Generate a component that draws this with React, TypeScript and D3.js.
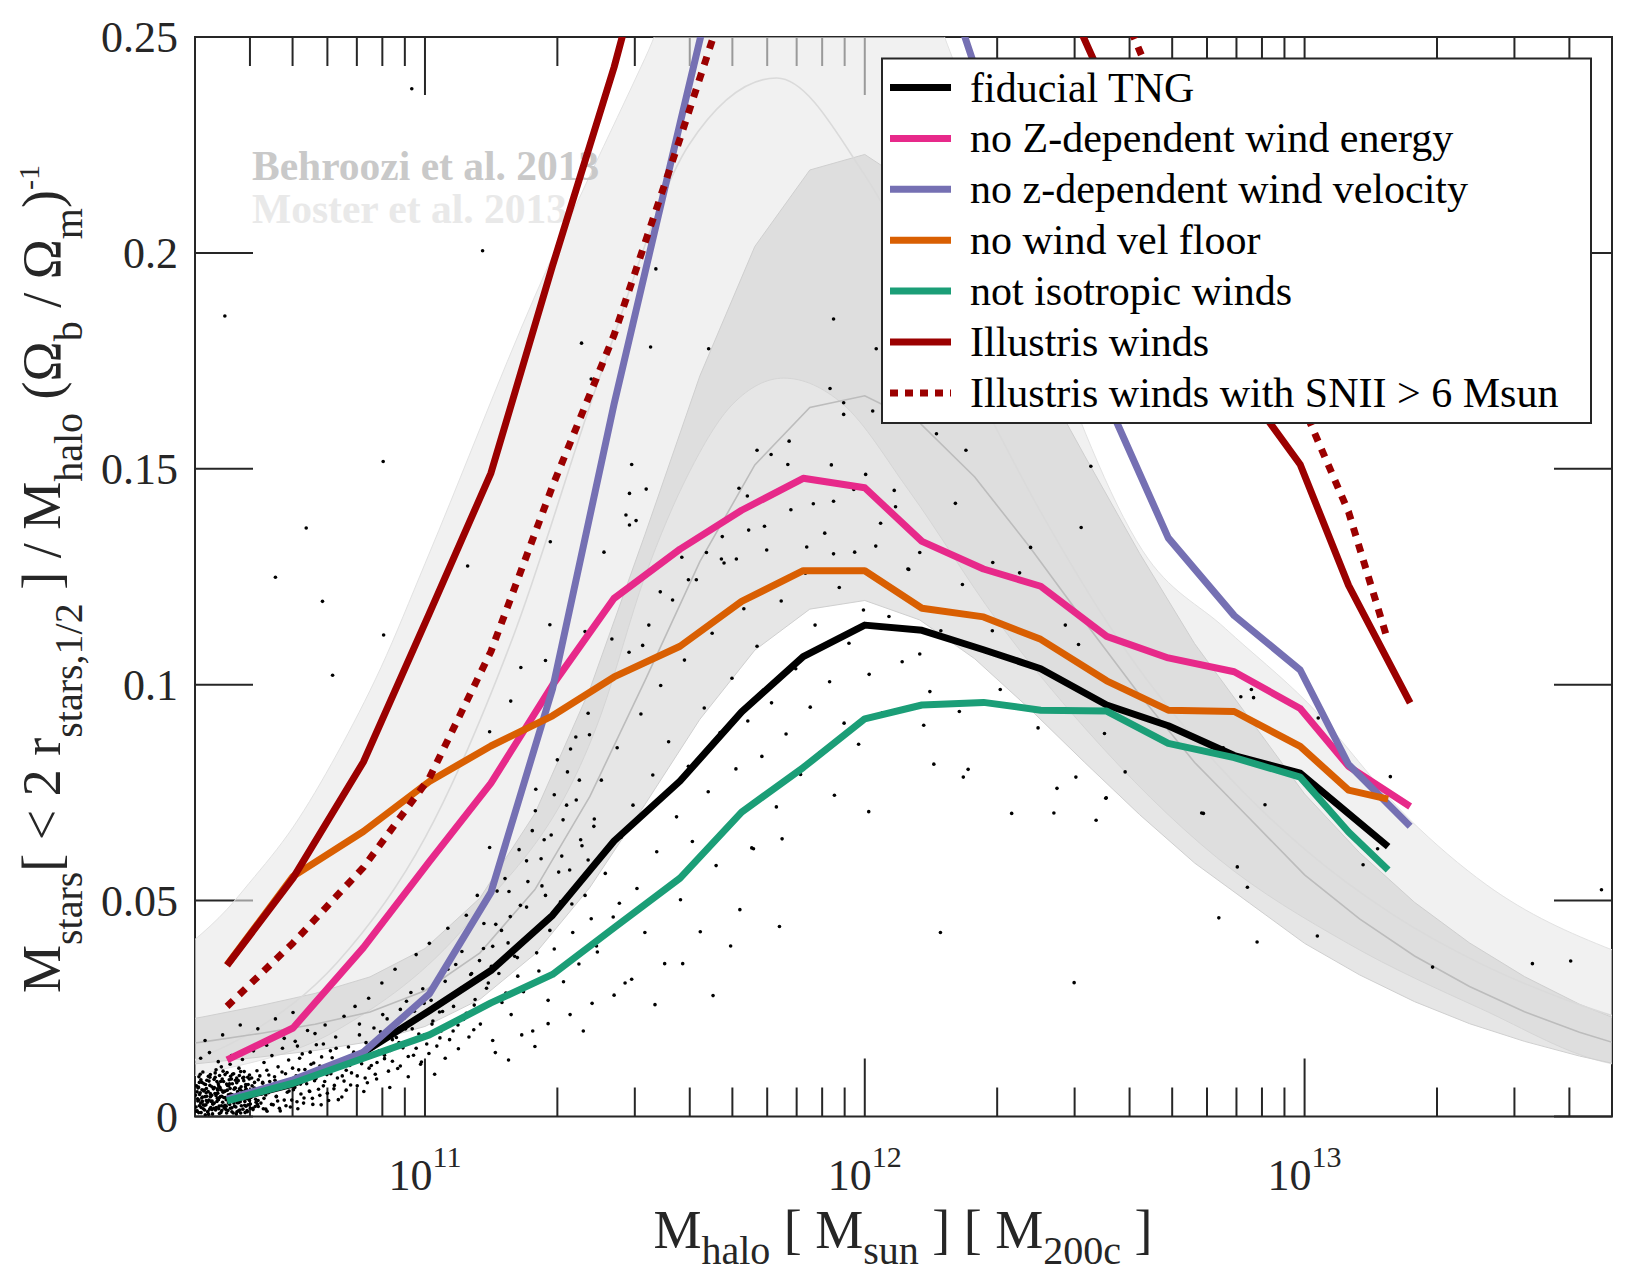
import * as d3 from "d3";

const WIDTH = 1650;
const HEIGHT = 1275;
const PLOT = { x0: 195, x1: 1612, y0: 37, y1: 1116.5 };
const FONT = "'Liberation Serif', 'Times New Roman', Times, serif";

// median relations of the model variations, binned in log10 halo mass
const binLogM = [10.55, 10.7, 10.86, 11.01, 11.15, 11.29, 11.43, 11.58, 11.72, 11.86, 12.0, 12.13, 12.27, 12.4, 12.55, 12.69, 12.84, 12.99, 13.1, 13.19, 13.24];

const fiducialTNG = [0.0037, 0.0075, 0.0148, 0.0245, 0.0338, 0.0466, 0.0638, 0.0777, 0.0937, 0.1065, 0.1138, 0.1126, 0.1081, 0.1037, 0.0953, 0.0905, 0.0836, 0.0795, null, 0.0625, null];
const noZWindEnergy = [0.0131, 0.0205, 0.0391, 0.059, 0.0772, 0.0999, 0.12, 0.1314, 0.1404, 0.1478, 0.1456, 0.1332, 0.1268, 0.1228, 0.1112, 0.1062, 0.103, 0.0945, 0.0811, null, 0.0718];
const noZWindVelocity = [0.004, 0.0085, 0.0149, 0.0284, 0.0519, 0.099, 0.165, 0.23, 0.29, 0.33, 0.34, 0.28, 0.237, 0.204, 0.166, 0.134, 0.116, 0.1034, 0.0815, null, 0.0672];
const noWindVelFloor = [0.0351, 0.0556, 0.066, 0.0776, 0.0858, 0.0928, 0.1018, 0.1089, 0.1193, 0.1264, 0.1264, 0.1177, 0.1157, 0.1105, 0.1009, 0.0941, 0.0938, 0.0857, 0.0756, 0.0735, null];
const notIsotropicWinds = [0.0036, 0.0077, 0.0135, 0.0189, 0.0263, 0.0329, 0.0437, 0.0552, 0.0705, 0.0808, 0.0921, 0.0953, 0.0959, 0.0941, 0.0939, 0.0864, 0.0831, 0.0786, 0.0659, 0.0571, null];
const illustrisWinds = [0.035, 0.0552, 0.0821, 0.1165, 0.149, 0.197, 0.243, 0.3, 0.35, 0.38, 0.38, 0.35, 0.32, 0.272, 0.238, 0.205, 0.172, 0.151, 0.123, null, 0.0958];
const illustrisWindsSNII = [0.0255, 0.0402, 0.0577, 0.0784, 0.1077, 0.146, 0.181, 0.2265, 0.27, 0.31, 0.33, 0.33, 0.31, 0.29, 0.265, 0.231, 0.199, 0.166, 0.14, 0.11, null];

const seriesNames = [
  "fiducial TNG",
  "no Z-dependent wind energy",
  "no z-dependent wind velocity",
  "no wind vel floor",
  "not isotropic winds",
  "Illustris winds",
  "Illustris winds with SNII > 6 Msun",
];
const seriesValues = [fiducialTNG, noZWindEnergy, noZWindVelocity, noWindVelFloor, notIsotropicWinds, illustrisWinds, illustrisWindsSNII];
const seriesColors = ["#000000", "#e7298a", "#7570b3", "#d95f02", "#1b9e77", "#9b0000", "#9b0000"];
const seriesDotted = [false, false, false, false, false, false, true];

// Behroozi et al. 2013, tabulated every 0.125 dex
const behrooziLogM = [10.375, 10.5, 10.625, 10.75, 10.875, 11.0, 11.125, 11.25, 11.375, 11.5, 11.625, 11.75, 11.875, 12.0, 12.125, 12.25, 12.375, 12.5, 12.625, 12.75, 12.875, 13.0, 13.125, 13.25, 13.375, 13.5, 13.625, 13.75];
const behrooziMid = [0.0156, 0.01735, 0.01923, 0.02135, 0.02422, 0.02913, 0.0379, 0.05256, 0.07413, 0.1009, 0.1285, 0.1509, 0.1642, 0.1669, 0.1606, 0.1481, 0.1319, 0.1146, 0.09767, 0.08199, 0.069, 0.05596, 0.04576, 0.03718, 0.03009, 0.02425, 0.01949, 0.01562];
const behrooziHi = [0.0208, 0.02316, 0.02567, 0.0285, 0.03233, 0.03889, 0.0506, 0.07017, 0.09896, 0.1347, 0.1715, 0.2015, 0.2192, 0.2228, 0.2144, 0.1977, 0.1761, 0.153, 0.1304, 0.1095, 0.0921, 0.0747, 0.0611, 0.0496, 0.0402, 0.0324, 0.026, 0.0209];
const behrooziLo = [0.01117, 0.01242, 0.01377, 0.01528, 0.01734, 0.02085, 0.02713, 0.03762, 0.05306, 0.07223, 0.09198, 0.108, 0.1175, 0.1195, 0.115, 0.106, 0.0944, 0.082, 0.0699, 0.0587, 0.0494, 0.0401, 0.0328, 0.0266, 0.0215, 0.0174, 0.014, 0.0112];

// Moster et al. 2013
const mosterLogM = [10.3, 10.477, 10.6, 10.8, 11.0, 11.2, 11.4, 11.6, 11.8, 12.0, 12.2, 12.4, 12.6, 12.8, 13.0, 13.2, 13.4, 13.6, 13.8];
const mosterMid = [0.0075, 0.0131, 0.0192, 0.0356, 0.0645, 0.111, 0.172, 0.225, 0.2405, 0.218, 0.179, 0.14, 0.107, 0.0817, 0.0619, 0.0468, 0.0354, 0.0268, 0.0202];
const mosterHiLogM = [10.3, 10.477, 10.55, 10.6, 10.7, 10.8, 10.9, 11.0, 11.25, 11.5, 11.75, 12.0, 12.2, 12.4, 12.632, 12.82, 13.007, 13.238, 13.413, 13.699, 13.8];
const mosterHi = [0.03, 0.041, 0.048, 0.054, 0.067, 0.084, 0.104, 0.128, 0.19, 0.245, 0.3, 0.29, 0.245, 0.185, 0.131, 0.113, 0.0958, 0.0689, 0.0537, 0.0386, 0.035];
const mosterLoLogM = [10.3, 10.477, 10.8, 11.1, 11.4, 11.5, 11.6, 11.7, 11.816, 11.95, 12.1, 12.3, 12.5, 12.8, 13.1, 13.4, 13.699, 13.8];
const mosterLo = [0.006, 0.0095, 0.02, 0.045, 0.093, 0.125, 0.149, 0.165, 0.171, 0.165, 0.145, 0.115, 0.09, 0.06, 0.04, 0.025, 0.0122, 0.011];

// individual fiducial-run galaxies: [log10 Mhalo, ratio]
const galaxies: [number, number][] = [
  [10.481, 0.0012], [10.483, 0.0041], [10.485, 0.0068], [10.487, 0.0025], [10.489, 0.0055], [10.491, 0.0009], [10.493, 0.0079], [10.494, 0.0035], [10.496, 0.0018], [10.498, 0.0061],
  [10.5, 0.0046], [10.502, 0.0027], [10.504, 0.0084], [10.506, 0.0011], [10.507, 0.0058], [10.509, 0.0038], [10.511, 0.0072], [10.513, 0.0021], [10.515, 0.0049], [10.517, 0.0006],
  [10.519, 0.0064], [10.521, 0.0031], [10.523, 0.0091], [10.524, 0.0015], [10.526, 0.0053], [10.528, 0.0042], [10.53, 0.0076], [10.532, 0.0024], [10.534, 0.0067], [10.536, 0.0009],
  [10.538, 0.0047], [10.54, 0.0033], [10.542, 0.0081], [10.544, 0.0019], [10.546, 0.0059], [10.548, 0.0039], [10.55, 0.0102], [10.552, 0.0014], [10.554, 0.0071], [10.556, 0.0028],
  [10.558, 0.0052], [10.56, 0.0087], [10.562, 0.0036], [10.564, 0.0008], [10.566, 0.0063], [10.568, 0.0044], [10.57, 0.0022], [10.572, 0.0078], [10.574, 0.0057], [10.576, 0.0013],
  [10.578, 0.0095], [10.58, 0.0034], [10.582, 0.0069], [10.584, 0.0048], [10.586, 0.0017], [10.588, 0.0083], [10.59, 0.0026], [10.592, 0.0062], [10.594, 0.0043], [10.596, 0.0011],
  [10.598, 0.0074], [10.6, 0.0054], [10.603, 0.0029], [10.606, 0.0089], [10.609, 0.0016], [10.612, 0.0066], [10.615, 0.004], [10.618, 0.0106], [10.621, 0.0023], [10.624, 0.0058],
  [10.482, 0.0057], [10.486, 0.0092], [10.49, 0.0031], [10.495, 0.0103], [10.499, 0.0015], [10.503, 0.0065], [10.508, 0.0005], [10.512, 0.0097], [10.516, 0.0036], [10.52, 0.0019],
  [10.525, 0.0108], [10.529, 0.0061], [10.533, 0.0044], [10.537, 0.0115], [10.541, 0.0056], [10.545, 0.0026], [10.549, 0.0075], [10.553, 0.005], [10.557, 0.0121], [10.561, 0.002],
  [10.565, 0.0099], [10.569, 0.0066], [10.573, 0.0032], [10.577, 0.0112], [10.581, 0.0008], [10.585, 0.0058], [10.589, 0.0104], [10.593, 0.0024], [10.597, 0.0091], [10.601, 0.0037],
  [10.536, 0.0062], [10.491, 0.0021], [10.612, 0.0049], [10.558, 0.0093], [10.503, 0.0037], [10.579, 0.0015], [10.527, 0.0081], [10.484, 0.0066], [10.598, 0.0027], [10.546, 0.0044],
  [10.621, 0.0085], [10.512, 0.0053], [10.571, 0.0006], [10.489, 0.0098], [10.553, 0.0031], [10.607, 0.0071], [10.531, 0.0018], [10.497, 0.0059], [10.583, 0.0047], [10.562, 0.0076],
  [10.518, 0.0029], [10.634, 0.0042], [10.541, 0.0105], [10.482, 0.0013], [10.594, 0.0063], [10.525, 0.0048], [10.567, 0.0024], [10.509, 0.0082], [10.588, 0.0091], [10.549, 0.0008],
  [10.616, 0.0033], [10.494, 0.0045], [10.574, 0.0057], [10.533, 0.0095], [10.603, 0.0019], [10.521, 0.0067], [10.558, 0.0039], [10.487, 0.0079], [10.627, 0.0061], [10.543, 0.0022],
  [10.581, 0.0104], [10.506, 0.0011], [10.569, 0.0084], [10.529, 0.0054], [10.596, 0.0041], [10.514, 0.0035], [10.551, 0.0072], [10.499, 0.0026], [10.638, 0.0017], [10.564, 0.0049],
  [10.539, 0.0087], [10.609, 0.0056], [10.486, 0.0038], [10.576, 0.0032], [10.523, 0.0101], [10.591, 0.0009], [10.557, 0.0065], [10.501, 0.0074], [10.619, 0.0028], [10.535, 0.0046],
  [10.572, 0.0089], [10.516, 0.0016], [10.586, 0.0052], [10.548, 0.0024], [10.493, 0.0062], [10.631, 0.0077], [10.561, 0.0011], [10.527, 0.0035], [10.601, 0.0096], [10.544, 0.0058],
  [10.478, 0.0049], [10.566, 0.0043], [10.511, 0.0091], [10.592, 0.0069], [10.538, 0.0014], [10.614, 0.0023], [10.555, 0.0085], [10.504, 0.0047], [10.578, 0.0064], [10.531, 0.0071],
  [10.4795, 0.0022], [10.4805, 0.0071], [10.4835, 0.0036], [10.4855, 0.0009], [10.4875, 0.0051], [10.4905, 0.0085], [10.4925, 0.0043], [10.4955, 0.0027], [10.4975, 0.0076], [10.5005, 0.0004],
  [10.5025, 0.0055], [10.5055, 0.0033], [10.5075, 0.0093], [10.5105, 0.0017], [10.5125, 0.0046], [10.5155, 0.0069], [10.5175, 0.0029], [10.5205, 0.0086], [10.5225, 0.0053], [10.5255, 0.0021],
  [10.5275, 0.0064], [10.5305, 0.0039], [10.5325, 0.0007], [10.5355, 0.0081], [10.5375, 0.0025], [10.5405, 0.0059], [10.5425, 0.0044], [10.5455, 0.0097], [10.5475, 0.0016], [10.5505, 0.0061],
  [10.5525, 0.0037], [10.5555, 0.0076], [10.5575, 0.0019], [10.5605, 0.0051], [10.5625, 0.0098], [10.5655, 0.0031], [10.5675, 0.0066], [10.5705, 0.0045], [10.5725, 0.0011], [10.5755, 0.0083],
  [10.5775, 0.0041], [10.5805, 0.0062], [10.5825, 0.0025], [10.5855, 0.0089], [10.5875, 0.0055], [10.5905, 0.0035], [10.5925, 0.0074], [10.5955, 0.0014], [10.5975, 0.0052], [10.6005, 0.0087],
  [10.6045, 0.0044], [10.6085, 0.0019], [10.6125, 0.0079], [10.6165, 0.0061], [10.6205, 0.0037], [10.6245, 0.0094], [10.6285, 0.0052], [10.6325, 0.0018], [10.6365, 0.0068], [10.6405, 0.0107],
  [10.49, 0.0135], [10.51, 0.0148], [10.53, 0.0127], [10.56, 0.0141], [10.585, 0.0132], [10.61, 0.0152], [10.64, 0.0165], [10.68, 0.0181], [10.71, 0.0163], [10.75, 0.0192],
  [10.5, 0.0176], [10.54, 0.0189], [10.62, 0.0203], [10.66, 0.0226], [10.7, 0.0241], [10.58, 0.0212],
  [10.627, 0.0031], [10.631, 0.0079], [10.634, 0.0125], [10.638, 0.005], [10.641, 0.0012], [10.645, 0.0096], [10.648, 0.0068], [10.652, 0.0141], [10.655, 0.0027], [10.659, 0.0084],
  [10.662, 0.0046], [10.666, 0.0115], [10.669, 0.0019], [10.673, 0.0071], [10.676, 0.0158], [10.68, 0.0038], [10.683, 0.0099], [10.687, 0.0056], [10.69, 0.0131], [10.694, 0.0022],
  [10.644, 0.0055], [10.651, 0.0028], [10.658, 0.0092], [10.647, 0.0081], [10.665, 0.0036], [10.671, 0.0013], [10.655, 0.0061], [10.678, 0.0074], [10.662, 0.0047], [10.684, 0.0025],
  [10.691, 0.0059], [10.675, 0.0103], [10.697, 0.0038], [10.688, 0.0084], [10.704, 0.0067], [10.711, 0.0018], [10.699, 0.0112], [10.718, 0.0052], [10.707, 0.0094], [10.724, 0.0031],
  [10.697, 0.0087], [10.701, 0.0062], [10.705, 0.0174], [10.709, 0.0034], [10.713, 0.0108], [10.717, 0.0075], [10.721, 0.0145], [10.725, 0.0043], [10.729, 0.0092], [10.733, 0.0199],
  [10.731, 0.0076], [10.715, 0.0135], [10.738, 0.0058], [10.727, 0.0109], [10.744, 0.0042], [10.752, 0.0088], [10.739, 0.0149], [10.758, 0.0063], [10.747, 0.0124], [10.764, 0.0027],
  [10.737, 0.0059], [10.741, 0.0121], [10.745, 0.0028], [10.749, 0.0083], [10.753, 0.0166], [10.757, 0.0105], [10.761, 0.0049], [10.765, 0.0138], [10.769, 0.0071], [10.773, 0.0212],
  [10.772, 0.0081], [10.761, 0.0117], [10.778, 0.0054], [10.786, 0.0099], [10.769, 0.0168], [10.794, 0.0072], [10.803, 0.0039], [10.789, 0.0136], [10.812, 0.0094], [10.798, 0.0158],
  [10.777, 0.0097], [10.781, 0.0037], [10.785, 0.0152], [10.789, 0.0115], [10.793, 0.0064], [10.797, 0.0184], [10.801, 0.0089], [10.806, 0.0128], [10.811, 0.0045], [10.816, 0.0232],
  [10.821, 0.0061], [10.829, 0.0118], [10.816, 0.0082], [10.838, 0.0149], [10.846, 0.0071], [10.833, 0.0101], [10.855, 0.0133], [10.864, 0.0089], [10.851, 0.0214], [10.873, 0.0112],
  [10.821, 0.0107], [10.826, 0.0161], [10.831, 0.0073], [10.836, 0.0139], [10.841, 0.0255], [10.846, 0.0094], [10.851, 0.0189], [10.856, 0.0122], [10.861, 0.0058], [10.866, 0.0171],
  [10.882, 0.0167], [10.869, 0.0078], [10.891, 0.0125], [10.899, 0.0196], [10.887, 0.0098], [10.908, 0.0142], [10.917, 0.0105], [10.904, 0.0236], [10.926, 0.0128], [10.935, 0.0183],
  [10.872, 0.0274], [10.878, 0.0118], [10.884, 0.0205], [10.89, 0.0087], [10.896, 0.0152], [10.902, 0.0309], [10.908, 0.0134], [10.914, 0.0226], [10.92, 0.0067], [10.926, 0.0178],
  [10.922, 0.0153], [10.944, 0.0117], [10.953, 0.0228], [10.941, 0.0171], [10.962, 0.0139], [10.971, 0.0203], [10.958, 0.0267], [10.98, 0.0158], [10.99, 0.0121], [10.976, 0.0244],
  [10.932, 0.0341], [10.938, 0.0111], [10.944, 0.0248], [10.95, 0.0159], [10.956, 0.0203], [10.962, 0.0092], [10.968, 0.0287], [10.974, 0.0142], [10.98, 0.0375], [10.986, 0.0191],
  [10.999, 0.0189], [11.009, 0.0146], [10.995, 0.0296], [11.018, 0.0221], [11.027, 0.0163], [11.014, 0.0269], [11.037, 0.0198], [11.046, 0.0313], [11.033, 0.0242], [11.056, 0.0178],
  [10.992, 0.0126], [10.998, 0.0262], [11.004, 0.0168], [11.01, 0.0401], [11.016, 0.0214], [11.022, 0.0098], [11.028, 0.0318], [11.034, 0.0182], [11.04, 0.0243], [11.046, 0.0135],
  [11.065, 0.0255], [11.052, 0.0341], [11.075, 0.0212], [11.084, 0.0382], [11.071, 0.0287], [11.094, 0.0239], [11.104, 0.0329], [11.091, 0.0416], [11.114, 0.0271], [11.124, 0.0361],
  [11.052, 0.0436], [11.058, 0.0276], [11.064, 0.0198], [11.07, 0.0352], [11.076, 0.0157], [11.082, 0.0297], [11.088, 0.0225], [11.094, 0.0466], [11.1, 0.0184], [11.106, 0.0331],
  [11.111, 0.0201], [11.134, 0.0447], [11.144, 0.0309], [11.131, 0.0254], [11.154, 0.0394], [11.164, 0.0522], [11.151, 0.0348], [11.174, 0.0431], [11.184, 0.0286], [11.171, 0.0585],
  [11.112, 0.0258], [11.119, 0.0512], [11.126, 0.0214], [11.133, 0.0389], [11.14, 0.0297], [11.147, 0.0623], [11.154, 0.0176], [11.161, 0.0445], [11.168, 0.0331], [11.175, 0.0264],
  [11.194, 0.0463], [11.204, 0.0371], [11.191, 0.0521], [11.214, 0.0618], [11.224, 0.0407], [11.211, 0.0325], [11.234, 0.0544], [11.244, 0.0662], [11.231, 0.0485], [11.254, 0.0379],
  [11.182, 0.0551], [11.189, 0.0402], [11.196, 0.0236], [11.203, 0.0695], [11.21, 0.0368], [11.217, 0.0489], [11.224, 0.0289], [11.231, 0.0592], [11.238, 0.0421], [11.245, 0.0198],
  [11.264, 0.0597], [11.251, 0.0708], [11.274, 0.0512], [11.284, 0.0431], [11.271, 0.0641], [11.294, 0.0745], [11.304, 0.0566], [11.291, 0.0471], [11.314, 0.0687], [11.324, 0.0798],
  [11.252, 0.0758], [11.259, 0.0337], [11.266, 0.0534], [11.273, 0.0454], [11.28, 0.0269], [11.287, 0.0652], [11.294, 0.0388], [11.301, 0.0826], [11.308, 0.0497], [11.315, 0.0312],
  [11.311, 0.0603], [11.334, 0.0492], [11.344, 0.0733], [11.331, 0.0851], [11.354, 0.0641], [11.364, 0.0556], [11.351, 0.0779], [11.374, 0.0884], [11.384, 0.0672], [11.371, 0.0594],
  [11.322, 0.0721], [11.329, 0.0571], [11.336, 0.0426], [11.343, 0.0879], [11.35, 0.0353], [11.357, 0.0627], [11.364, 0.0512], [11.371, 0.0934], [11.378, 0.0458], [11.385, 0.0689],
  [11.16, 0.0148], [11.22, 0.0189], [11.28, 0.0215], [11.33, 0.0236], [11.38, 0.0262], [11.25, 0.0162], [11.19, 0.0131], [11.43, 0.0281], [11.47, 0.0318], [11.36, 0.0198],
  [11.392, 0.0381], [11.401, 0.0779], [11.41, 0.0563], [11.419, 0.1012], [11.428, 0.0462], [11.437, 0.0854], [11.446, 0.0647], [11.455, 0.0309], [11.464, 0.1075], [11.473, 0.0721],
  [11.482, 0.0528], [11.491, 0.0932], [11.5, 0.0426], [11.509, 0.1138], [11.518, 0.0791], [11.527, 0.0613], [11.536, 0.0998], [11.545, 0.0354], [11.554, 0.0868], [11.563, 0.1196],
  [11.572, 0.0694], [11.581, 0.0502], [11.59, 0.1057], [11.599, 0.0811], [11.608, 0.0637], [11.617, 0.1243], [11.626, 0.0428], [11.635, 0.0946], [11.644, 0.0752], [11.653, 0.1119],
  [11.662, 0.0581], [11.671, 0.0889], [11.68, 0.1282], [11.689, 0.0673], [11.698, 0.1015], [11.707, 0.0805], [11.716, 0.0479], [11.725, 0.1176], [11.734, 0.0916], [11.743, 0.0622],
  [11.755, 0.1089], [11.766, 0.0834], [11.777, 0.1312], [11.788, 0.0958], [11.799, 0.0717], [11.81, 0.1194], [11.821, 0.0886], [11.832, 0.1405], [11.843, 0.1037], [11.854, 0.0792],
  [11.865, 0.1258], [11.876, 0.0948], [11.887, 0.1138], [11.898, 0.0843], [11.909, 0.1351], [11.92, 0.1007], [11.931, 0.0744], [11.942, 0.1225], [11.953, 0.0911], [11.964, 0.1096],
  [11.975, 0.1452], [11.986, 0.0862], [11.997, 0.1173], [12.01, 0.1024], [12.025, 0.1321], [12.04, 0.0935], [12.055, 0.1158], [12.07, 0.1412], [12.085, 0.1053], [12.1, 0.1267],
  [12.163, 0.1581], [12.23, 0.1543], [12.514, 0.1506], [12.492, 0.1364], [12.067, 0.145], [12.206, 0.142], [12.377, 0.1318], [12.291, 0.1283], [12.352, 0.1259], [12.456, 0.1138],
  [12.486, 0.1093], [12.125, 0.1306], [12.098, 0.1268], [12.222, 0.1232], [12.29, 0.1125], [12.173, 0.1125], [12.125, 0.1071], [12.148, 0.0984], [12.308, 0.0989], [12.134, 0.0906],
  [12.215, 0.0938], [12.394, 0.09], [12.545, 0.0887], [12.592, 0.0798], [12.48, 0.0786], [12.437, 0.076], [12.549, 0.0738], [12.91, 0.0722], [12.77, 0.0702], [12.235, 0.0804],
  [12.224, 0.0786], [12.157, 0.0816], [12.009, 0.0706], [12.334, 0.0702], [12.526, 0.0686], [12.827, 0.1177], [12.973, 0.1049], [12.879, 0.0989], [12.855, 0.0972], [12.884, 0.097],
  [13.031, 0.0923], [13.195, 0.0787], [12.815, 0.0854], [12.548, 0.0737], [12.766, 0.0703], [13.166, 0.062], [13.133, 0.0583], [12.847, 0.0578], [12.87, 0.0531], [12.805, 0.046],
  [12.892, 0.0404], [13.029, 0.0418], [13.291, 0.0346], [13.518, 0.0354], [13.605, 0.036], [13.675, 0.0525], [12.476, 0.031], [12.172, 0.0426], [12.43, 0.0703], [11.806, 0.044],
  [10.545, 0.1854], [10.97, 0.238], [11.131, 0.2005], [11.356, 0.1791], [11.513, 0.1782], [11.645, 0.1778], [11.525, 0.1963], [11.929, 0.1847], [12.026, 0.1778], [10.905, 0.1517],
  [10.73, 0.1363], [11.378, 0.1708], [11.921, 0.1686], [11.952, 0.1653], [11.952, 0.1626], [12.018, 0.1634], [11.47, 0.151], [11.755, 0.1543], [11.787, 0.1533], [11.828, 0.1564],
  [11.825, 0.151], [11.924, 0.1509], [12.002, 0.1487], [11.503, 0.1453], [11.465, 0.1443], [11.714, 0.1455], [11.733, 0.1437], [11.883, 0.1419], [11.929, 0.1425], [11.457, 0.1393],
  [11.48, 0.138], [11.465, 0.137], [11.676, 0.1343], [11.736, 0.1358], [11.772, 0.1367], [12.036, 0.1374], [11.285, 0.1331], [11.407, 0.1307], [11.868, 0.1319], [11.929, 0.1303],
  [11.977, 0.1307], [11.584, 0.1295], [11.64, 0.1306], [11.674, 0.1291], [11.708, 0.1291], [11.097, 0.1275], [10.66, 0.1249], [10.767, 0.1193], [10.906, 0.1115], [10.79, 0.1022],
  [11.284, 0.1139], [11.218, 0.104], [11.195, 0.0962], [11.274, 0.1056], [11.364, 0.1123], [11.147, 0.0891], [11.425, 0.1106], [11.495, 0.1091], [11.535, 0.1215], [11.599, 0.1243],
  [11.523, 0.0259], [11.586, 0.0354], [11.655, 0.028], [11.695, 0.0395], [11.747, 0.062], [11.812, 0.0643], [11.442, 0.0494], [11.39, 0.0395],
];

const yTicks = [0, 0.05, 0.1, 0.15, 0.2, 0.25];
const yTickLabels = ["0", "0.05", "0.1", "0.15", "0.2", "0.25"];
const xMajorExp = [11, 12, 13];

type Pt = [number, number];

export default function App() {
  const x = d3.scaleLog().domain([3e10, 5e13]).range([PLOT.x0, PLOT.x1]);
  const y = d3.scaleLinear().domain([0, 0.25]).range([PLOT.y1, PLOT.y0]);
  const px = (lm: number) => x(Math.pow(10, lm));

  const straight = d3.line<Pt>().x((d) => px(d[0])).y((d) => y(d[1]));
  const smooth = d3.line<Pt>().x((d) => px(d[0])).y((d) => y(d[1])).curve(d3.curveMonotoneX);

  const zip = (xs: number[], ys: number[]): Pt[] => xs.map((v, i) => [v, ys[i]] as Pt);

  const bandPath = (gen: d3.Line<Pt>, upper: Pt[], lower: Pt[]) => {
    const a = gen(upper) as string;
    const b = gen([...lower].reverse()) as string;
    return a + "L" + b.slice(1) + "Z";
  };

  const mosterBand = bandPath(smooth, zip(mosterHiLogM, mosterHi), zip(mosterLoLogM, mosterLo));
  const behrooziBand = bandPath(straight, zip(behrooziLogM, behrooziHi), zip(behrooziLogM, behrooziLo));

  // minor ticks on the log axis
  const minorTicks: number[] = [];
  for (let e = 10; e <= 13; e++) {
    for (let k = 2; k <= 9; k++) {
      const m = k * Math.pow(10, e);
      if (m > 3e10 && m < 5e13) minorTicks.push(m);
    }
  }
  const majorTicks = xMajorExp.map((e) => Math.pow(10, e));

  const axisColor = "#262626";
  const legendX = 882;
  const legendY = 58.5;
  const legendW = 709;
  const legendH = 364.5;
  const rowH = 50.9;

  return (
    <svg
      width={WIDTH}
      height={HEIGHT}
      viewBox={`0 0 ${WIDTH} ${HEIGHT}`}
      style={{ position: "absolute", left: 0, top: 0, background: "#fff" }}
      fontFamily={FONT}
    >
      <defs>
        <clipPath id="plotArea">
          <rect x={PLOT.x0} y={PLOT.y0} width={PLOT.x1 - PLOT.x0} height={PLOT.y1 - PLOT.y0} />
        </clipPath>
      </defs>
      <rect width={WIDTH} height={HEIGHT} fill="#fff" />

      {/* axes box and ticks sit below the data */}
      <g stroke={axisColor} strokeWidth={2} fill="none">
        <rect x={PLOT.x0} y={PLOT.y0} width={PLOT.x1 - PLOT.x0} height={PLOT.y1 - PLOT.y0} />
        {majorTicks.map((m) => (
          <g key={"M" + m}>
            <line x1={x(m)} x2={x(m)} y1={PLOT.y1} y2={PLOT.y1 - 58} />
            <line x1={x(m)} x2={x(m)} y1={PLOT.y0} y2={PLOT.y0 + 58} />
          </g>
        ))}
        {minorTicks.map((m) => (
          <g key={"m" + m}>
            <line x1={x(m)} x2={x(m)} y1={PLOT.y1} y2={PLOT.y1 - 29} />
            <line x1={x(m)} x2={x(m)} y1={PLOT.y0} y2={PLOT.y0 + 29} />
          </g>
        ))}
        {yTicks.map((v) => (
          <g key={"y" + v}>
            <line x1={PLOT.x0} x2={PLOT.x0 + 58} y1={y(v)} y2={y(v)} />
            <line x1={PLOT.x1} x2={PLOT.x1 - 58} y1={y(v)} y2={y(v)} />
          </g>
        ))}
      </g>

      <g clipPath="url(#plotArea)">
        {/* literature relations */}
        <path d={mosterBand} fill="#e8e8e8" fillOpacity={0.6} stroke="#e2e2e2" strokeWidth={1} />
        <path d={behrooziBand} fill="#c4c4c4" fillOpacity={0.42} stroke="#cfcfcf" strokeWidth={1} />
        <path d={smooth(zip(mosterLogM, mosterMid)) as string} fill="none" stroke="#dadada" strokeWidth={1.6} />
        <path d={straight(zip(behrooziLogM, behrooziMid)) as string} fill="none" stroke="#bcbcbc" strokeWidth={1.6} />

        <text x={252} y={180} fontSize={41.5} fontWeight="bold" fill="#c9c9c9">
          Behroozi et al. 2013
        </text>
        <text x={252} y={223} fontSize={41.5} fontWeight="bold" fill="#e9e9e9">
          Moster et al. 2013
        </text>

        {/* galaxies of the fiducial run */}
        <g fill="#000">
          {galaxies.map((g, i) => (
            <circle key={i} cx={px(g[0])} cy={y(g[1])} r={1.8} />
          ))}
        </g>

        {/* model variations */}
        {seriesValues.map((vals, si) => {
          const pts = binLogM
            .map((lm, i) => [lm, vals[i]] as [number, number | null])
            .filter((d) => d[1] !== null) as Pt[];
          return (
            <path
              key={si}
              d={straight(pts) as string}
              fill="none"
              stroke={seriesColors[si]}
              strokeWidth={7}
              strokeLinejoin="round"
              strokeLinecap="butt"
              strokeDasharray={seriesDotted[si] ? "8.5 8.5" : undefined}
            />
          );
        })}
      </g>

      {/* tick labels */}
      <g fontSize={44} fill="#262626">
        {yTicks.map((v, i) => (
          <text key={v} x={178} y={y(v) + 15} textAnchor="end">
            {yTickLabels[i]}
          </text>
        ))}
        {xMajorExp.map((e) => (
          <text key={e} x={x(Math.pow(10, e))} y={1190} textAnchor="middle">
            10
            <tspan fontSize={30} dy={-23}>
              {String(e)}
            </tspan>
          </text>
        ))}
      </g>

      {/* axis labels */}
      <text x={903} y={1248} textAnchor="middle" fontSize={54} fill="#262626" style={{ whiteSpace: "pre" }}>
        M<tspan fontSize={40} dy={16}>halo</tspan>
        <tspan dy={-16}>{" [ M"}</tspan>
        <tspan fontSize={40} dy={16}>sun</tspan>
        <tspan dy={-16}>{" ] [ M"}</tspan>
        <tspan fontSize={40} dy={16}>200c</tspan>
        <tspan dy={-16}>{" ]"}</tspan>
      </text>
      <text
        transform="translate(60,579) rotate(-90)"
        textAnchor="middle"
        fontSize={54}
        fill="#262626"
        style={{ whiteSpace: "pre" }}
      >
        M<tspan fontSize={40} dy={22}>stars</tspan>
        <tspan dy={-22}>{"[ < 2 r"}</tspan>
        <tspan fontSize={40} dy={22}>stars,1/2</tspan>
        <tspan dy={-22}>{" ] / M"}</tspan>
        <tspan fontSize={40} dy={22}>halo</tspan>
        <tspan dy={-22}>{" (Ω"}</tspan>
        <tspan fontSize={40} dy={22}>b</tspan>
        <tspan dy={-22}>{" / Ω"}</tspan>
        <tspan fontSize={40} dy={22}>m</tspan>
        <tspan dy={-22}>{")"}</tspan>
        <tspan fontSize={30} dy={-21}>-1</tspan>
      </text>

      {/* legend */}
      <g>
        <rect x={legendX} y={legendY} width={legendW} height={legendH} fill="#fff" stroke={axisColor} strokeWidth={2} />
        {seriesNames.map((name, i) => {
          const cy = 87.5 + i * rowH;
          return (
            <g key={name}>
              <line
                x1={890}
                x2={951}
                y1={cy}
                y2={cy}
                stroke={seriesColors[i]}
                strokeWidth={7}
                strokeDasharray={seriesDotted[i] ? "8 7" : undefined}
              />
              <text x={970} y={cy + 14} fontSize={42} fill="#000">
                {name}
              </text>
            </g>
          );
        })}
      </g>
    </svg>
  );
}
